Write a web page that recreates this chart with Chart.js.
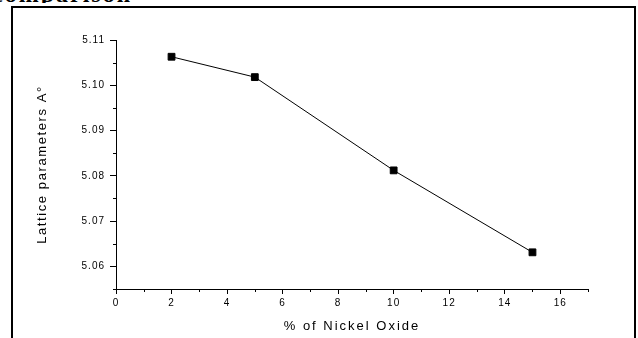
<!DOCTYPE html>
<html><head><meta charset="utf-8">
<script src="https://cdn.jsdelivr.net/npm/chart.js@4/dist/chart.umd.min.js"></script>
<style>
html,body{margin:0;padding:0;background:#fff;width:638px;height:338px;overflow:hidden;}
#frame{position:absolute;left:11px;top:6px;width:621px;height:340px;border:2px solid #000;border-bottom:none;}
#cap{position:absolute;left:0;top:0;width:200px;height:3px;overflow:hidden;}
#cap span{position:absolute;left:-8px;bottom:-3px;font:bold 24px "Liberation Serif";letter-spacing:2px;line-height:24px;white-space:nowrap;color:#000;}
#wrap{position:absolute;left:0;top:0;width:638px;height:338px;}
</style></head><body>
<div id="cap"><span>comparison</span></div>
<div id="frame"></div>
<div id="wrap"><canvas id="c" width="638" height="338"></canvas></div>
<script>
const categories = [2, 5, 10, 15];
const latticeValues = [5.1063, 5.1018, 5.0812, 5.0631];
const xTickLabels = [0, 2, 4, 6, 8, 10, 12, 14, 16];
const yTickLabels = ['5.06', '5.07', '5.08', '5.09', '5.10', '5.11'];
const xMinorTicks = [1, 3, 5, 7, 9, 11, 13, 15, 17];
const yMinorTicks = [5.055, 5.065, 5.075, 5.085, 5.095, 5.105];
const xTitle = '% of Nickel Oxide';
const yTitle = 'Lattice parameters A°';

const spacing = {
  id: 'spacing',
  beforeLayout(chart) { chart.ctx.letterSpacing = '1px'; },
  beforeDraw(chart) {
    const ctx = chart.ctx;
    ctx.letterSpacing = '1px';
    const gaps = { x: '2px', y: '1.6px' };
    Object.keys(gaps).forEach(id => {
      const s = chart.scales[id];
      if (s && !s._spacedTitle) {
        const orig = s.drawTitle;
        s.drawTitle = function () {
          ctx.letterSpacing = gaps[id];
          orig.call(this);
          ctx.letterSpacing = '1px';
        };
        s._spacedTitle = true;
      }
    });
  }
};

const minorTicks = {
  id: 'minorTicks',
  afterDraw(chart) {
    const { ctx, scales: { x, y } } = chart;
    ctx.save();
    ctx.strokeStyle = '#000';
    ctx.lineWidth = 1;
    ctx.beginPath();
    xMinorTicks.forEach(v => {
      const px = Math.round(x.getPixelForValue(v)) + 0.5;
      ctx.moveTo(px, x.top); ctx.lineTo(px, x.top + 3);
    });
    yMinorTicks.forEach(v => {
      const py = Math.round(y.getPixelForValue(v)) + 0.5;
      ctx.moveTo(y.right, py); ctx.lineTo(y.right - 3, py);
    });
    ctx.stroke();
    ctx.restore();
  }
};

const points = categories.map((c, i) => ({ x: c, y: latticeValues[i] }));

new Chart(document.getElementById('c'), {
  type: 'line',
  data: {
    datasets: [{
      data: points,
      borderColor: '#000',
      borderWidth: 1,
      backgroundColor: '#000',
      pointStyle: 'rect',
      pointRadius: 4.8,
      pointBorderWidth: 1,
      pointBackgroundColor: '#000',
      pointBorderColor: '#000',
      tension: 0,
      fill: false
    }]
  },
  options: {
    responsive: false,
    animation: false,
    events: [],
    layout: { padding: { left: 0, right: 50, top: 40, bottom: 0 } },
    plugins: { legend: { display: false }, tooltip: { enabled: false } },
    scales: {
      x: {
        type: 'linear',
        min: 0, max: 17,
        afterBuildTicks: s => { s.ticks = xTickLabels.map(v => ({ value: v })); },
        afterFit: s => { s.height = 49; },
        ticks: {
          color: '#000', font: { family: 'Liberation Sans, Arial', size: 10 },
          padding: 3, maxRotation: 0, autoSkip: false,
          callback: v => String(v)
        },
        grid: { drawOnChartArea: false, drawTicks: true, tickLength: 5, tickColor: '#000', tickWidth: 1 },
        border: { display: true, color: '#000', width: 1 },
        title: {
          display: true, text: xTitle, color: '#000',
          font: { family: 'Liberation Sans, Arial', size: 13 },
          padding: { top: 0, bottom: 4 }
        }
      },
      y: {
        type: 'linear',
        min: 5.055, max: 5.11,
        afterBuildTicks: s => { s.ticks = yTickLabels.map(v => ({ value: parseFloat(v) })); },
        afterFit: s => { s.width = 116; },
        ticks: {
          color: '#000', font: { family: 'Liberation Sans, Arial', size: 10 },
          padding: 5, autoSkip: false,
          callback: v => Number(v).toFixed(2)
        },
        grid: { drawOnChartArea: false, drawTicks: true, tickLength: 6, tickColor: '#000', tickWidth: 1 },
        border: { display: true, color: '#000', width: 1 },
        title: {
          display: true, text: yTitle, color: '#000',
          font: { family: 'Liberation Sans, Arial', size: 13 },
          padding: { top: 35, bottom: 0 }
        }
      }
    }
  },
  plugins: [spacing, minorTicks]
});
</script>
</body></html>
